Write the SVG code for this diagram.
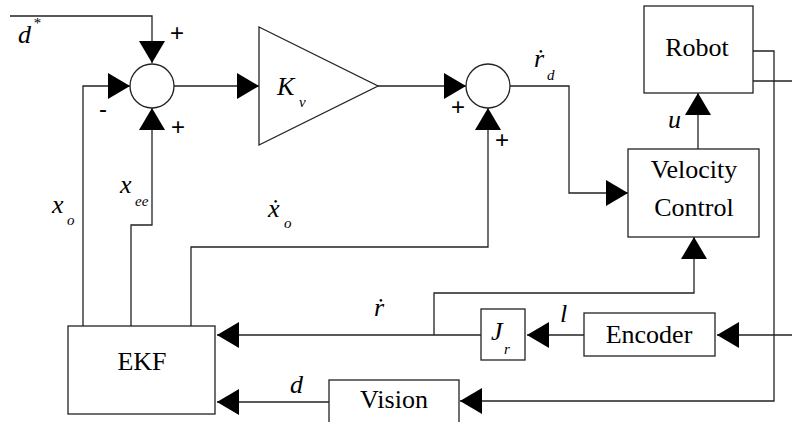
<svg xmlns="http://www.w3.org/2000/svg" width="792" height="422" viewBox="0 0 792 422">
<style>
.ln{fill:none;stroke:#222;stroke-width:1.3}
.box{fill:#fff;stroke:#222;stroke-width:1.3}
.t{font-size:26px;fill:#000}
.v{font-style:italic;font-size:26px;fill:#000}
.s{font-style:italic;font-size:15px;fill:#000}
.p{font-size:24px;fill:#000}
</style>
<defs>
<marker id="ah" viewBox="0 0 22 26" refX="22" refY="13" markerWidth="22" markerHeight="26" markerUnits="userSpaceOnUse" orient="auto">
<path d="M0,0 L22,13 L0,26 z" fill="#000"/>
</marker>
</defs>
<g id="connectors">
<path class="ln" d="M10,16 H152 V63" marker-end="url(#ah)"/>
<path class="ln" d="M83,326 V86 H130" marker-end="url(#ah)"/>
<path class="ln" d="M131,326 V225 H152 V108" marker-end="url(#ah)"/>
<path class="ln" d="M174,86 H259" marker-end="url(#ah)"/>
<path class="ln" d="M378,86 H466" marker-end="url(#ah)"/>
<path class="ln" d="M191,326 V247 H488 V108" marker-end="url(#ah)"/>
<path class="ln" d="M510,86 H569 V193 H628" marker-end="url(#ah)"/>
<path class="ln" d="M698,149 V93" marker-end="url(#ah)"/>
<path class="ln" d="M753,51 H774 V401 H460" marker-end="url(#ah)"/>
<path class="ln" d="M753,81 H792"/>
<path class="ln" d="M792,335 H717" marker-end="url(#ah)"/>
<path class="ln" d="M584,335 H527" marker-end="url(#ah)"/>
<path class="ln" d="M481,335 H217" marker-end="url(#ah)"/>
<path class="ln" d="M434,335 V293 H694 V237" marker-end="url(#ah)"/>
<path class="ln" d="M329,402 H217" marker-end="url(#ah)"/>
</g>
<g font-family="Liberation Sans, Arial, sans-serif">
<g id="sum1">
<circle class="box" cx="152" cy="86" r="22"/>
<text class="p" x="177" y="41" text-anchor="middle">+</text>
<text class="p" x="178" y="135" text-anchor="middle">+</text>
<text class="p" x="103" y="117" text-anchor="middle">-</text>
</g>
<g id="sum2">
<circle class="box" cx="488" cy="86" r="22"/>
<text class="p" x="458" y="115" text-anchor="middle">+</text>
<text class="p" x="502" y="148" text-anchor="middle">+</text>
</g>
</g>
<g font-family="Liberation Serif, Times New Roman, serif">
<g id="gain">
<path class="box" d="M259,27 L378,86 L259,145 z"/>
<text class="v" x="277" y="95">K</text>
<text class="s" x="299" y="107">v</text>
</g>
<g id="robot">
<rect class="box" x="644" y="6" width="109" height="87"/>
<text class="t" x="697" y="56" text-anchor="middle">Robot</text>
</g>
<g id="velocity">
<rect class="box" x="628" y="149" width="131" height="88"/>
<text class="t" x="694" y="178" text-anchor="middle">Velocity</text>
<text class="t" x="694" y="216" text-anchor="middle">Control</text>
</g>
<g id="ekf">
<rect class="box" x="68" y="326" width="147" height="88"/>
<text class="t" x="142" y="370" text-anchor="middle">EKF</text>
</g>
<g id="jr">
<rect class="box" x="481" y="309" width="44" height="51"/>
<text class="v" x="491" y="340">J</text>
<text class="s" x="504" y="354">r</text>
</g>
<g id="encoder">
<rect class="box" x="584" y="313" width="131" height="43"/>
<text class="t" x="649" y="343" text-anchor="middle">Encoder</text>
</g>
<g id="vision">
<rect class="box" x="329" y="380" width="130" height="50"/>
<text class="t" x="394" y="408" text-anchor="middle">Vision</text>
</g>
<g id="labels">
<text class="v" x="18" y="43">d</text>
<text class="s" x="33" y="28">*</text>
<text class="v" x="534" y="67">ṙ</text>
<text class="s" x="547" y="80">d</text>
<text class="v" x="668" y="128">u</text>
<text class="v" x="52" y="213">x</text>
<text class="s" x="67" y="225">o</text>
<text class="v" x="120" y="193">x</text>
<text class="s" x="135" y="206">ee</text>
<text class="v" x="268" y="217">ẋ</text>
<text class="s" x="284" y="228">o</text>
<text class="v" x="374" y="316">ṙ</text>
<text class="v" x="560" y="322">l</text>
<text class="v" x="290" y="393">d</text>
</g>
</g>
</svg>
